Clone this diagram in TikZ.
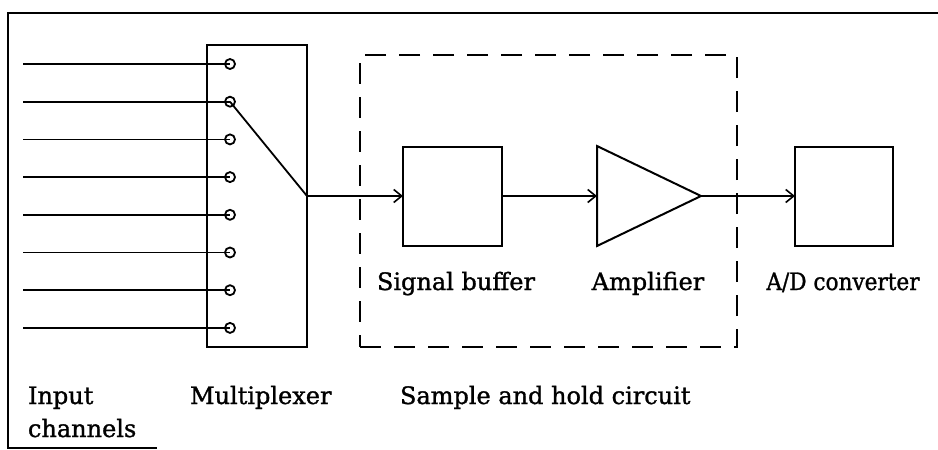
\documentclass[tikz,border=0pt]{standalone}
\usepackage{fontspec}
\setmainfont{DejaVu Serif}
\newfontfamily\lblfont{DejaVu Serif}[FakeBold=1.2]
\usetikzlibrary{arrows.meta}
\begin{document}
\begin{tikzpicture}[x=1pt,y=-1pt,
  line width=1.8pt,
  box/.style={draw,line width=2pt,inner sep=0,outer sep=0},
  term/.style={draw,circle,minimum size=10pt,inner sep=0,outer sep=0,line width=1.8pt},
  sig/.style={-{Straight Barb[length=8pt,width=13pt,line width=1.6pt]}},
  lbl/.style={inner sep=0,outer sep=0,font=\lblfont\fontsize{24}{33}\selectfont},
  frame/.style={line width=2.8pt},
  holdbox/.style={draw,line width=2pt,dash pattern=on 21pt off 13pt}]
\useasboundingbox (0,0) rectangle (938,450);
% outer frame
\draw[frame] (938,13) -- (8,13) -- (8,448) -- (157,448);
% multiplexer
\node[box,minimum width=100pt,minimum height=302pt] (mux) at (257,196) {};
\foreach \k in {1,...,8}{
  \pgfmathsetmacro{\yy}{64+(\k-1)*37.7}
  \coordinate (i\k) at (23,\yy);
  \node[term] (c\k) at (230,\yy) {};
  \draw (i\k) -- (c\k.center);
}
\draw (c2.center) -- (mux.east);
% sample and hold circuit
\node[holdbox,minimum width=377pt,minimum height=292pt] (shc) at (548.5,201) {};
\node[box,minimum width=99pt,minimum height=99pt] (buf) at (452.5,196) {};
\coordinate (ampin) at (597,196);
\coordinate (ampt) at (597,146);
\coordinate (ampb) at (597,246);
\coordinate (ampout) at (701,196);
\draw[line width=2pt,line join=miter] (ampt) -- (ampout) -- (ampb) -- cycle;
% A/D converter
\node[box,minimum width=98pt,minimum height=99pt] (adc) at (844,196) {};
% signal path
\draw[sig] (mux.east) -- (buf.west);
\draw[sig] (buf.east) -- (ampin);
\draw[sig] (ampout) -- (adc.west);
% labels
\node[lbl,anchor=base] (lbuf) at (456,290) {Signal buffer};
\node[lbl,anchor=base] (lamp) at (648,290) {Amplifier};
\node[lbl,anchor=base,xscale=0.9,transform shape] (ladc) at (843,290) {A/D converter};
\node[lbl,anchor=base west] (lin) at (28,404) {Input};
\node[lbl,anchor=base west] (lch) at (28,437) {channels};
\node[lbl,anchor=base west] (lmux) at (190,404) {Multiplexer};
\node[lbl,anchor=base west] (lshc) at (400,404) {Sample and hold circuit};
\end{tikzpicture}
\end{document}
